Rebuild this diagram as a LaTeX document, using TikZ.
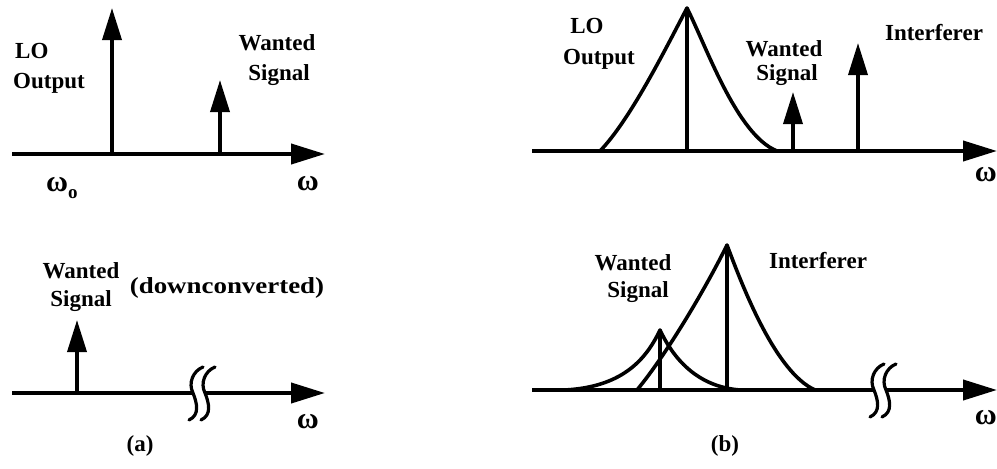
\documentclass[tikz,border=0pt]{standalone}
\usepackage{fontspec}
\setmainfont{Liberation Serif}
\usetikzlibrary{arrows.meta}
\begin{document}
\begin{tikzpicture}[x=1pt,y=-1pt,
  axisline/.style={line width=4pt},
  axisarrow/.style={line width=4pt,-{Triangle[length=34pt,width=20pt]}},
  sigarrow/.style={line width=3.6pt,-{Triangle[length=32pt,width=19pt]}},
  stem/.style={line width=3.6pt},
  curve/.style={line width=3.6pt,line join=round},
  lab/.style={font=\bfseries\fontsize{23}{26}\selectfont,anchor=base,inner sep=0pt},
  om/.style={font=\bfseries\fontsize{30}{30}\selectfont,inner sep=0pt},
  brk/.pic={
    \draw[line width=3.2pt,line cap=round] (10,-26) .. controls (0,-22) and (-5,-10) .. (0,0) .. controls (4,10) and (7,22) .. (-4,27);
    \draw[line width=3.2pt,line cap=round] (22,-26) .. controls (12,-22) and (7,-10) .. (12,0) .. controls (16,10) and (19,22) .. (8,27);
  }]
\useasboundingbox (0,0) rectangle (997,469);
\fill[white] (0,0) rectangle (997,469);

% ---------- (a) top ----------
\coordinate (A1s) at (12,154);
\coordinate (A1e) at (325,154);
\draw[axisarrow] (A1s) -- (A1e);
\coordinate (A1lo) at (112,154);
\coordinate (A1lot) at (112,8);
\draw[sigarrow] (A1lo) -- (A1lot);
\coordinate (A1w) at (220,154);
\coordinate (A1wt) at (220,80);
\draw[sigarrow] (A1w) -- (A1wt);
\node[lab,anchor=base west] (A1t1) at (15,58) {LO};
\node[lab,anchor=base west] (A1t2) at (13,88) {Output};
\node[lab] (A1t3) at (277,50) {Wanted};
\node[lab] (A1t4) at (279,80) {Signal};
\node[om,anchor=base west] (A1om0) at (46,191) {ω\raisebox{-7pt}{\fontsize{19}{19}\selectfont o}};
\node[om,anchor=base east] (A1om) at (319,190) {ω};

% ---------- (a) bottom ----------
\coordinate (A2s) at (12,393);
\coordinate (A2b1) at (193,393);
\coordinate (A2b2) at (205,393);
\coordinate (A2e) at (325,393);
\draw[axisline] (A2s) -- (A2b1);
\draw[axisarrow] (A2b2) -- (A2e);
\pic at (A2b1) {brk};
\coordinate (A2w) at (77,393);
\coordinate (A2wt) at (77,320);
\draw[sigarrow] (A2w) -- (A2wt);
\node[lab] (A2t1) at (81,278) {Wanted};
\node[lab] (A2t2) at (81,306) {Signal};
\node[lab] (A2t3) at (227,293) {\scalebox{1.17}[1]{(downconverted)}};
\node[om,anchor=base east] (A2om) at (319,428) {ω};
\node[lab] (A2cap) at (140,451) {(a)};

% ---------- (b) top ----------
\coordinate (B1s) at (532,151);
\coordinate (B1e) at (997,151);
\draw[axisarrow] (B1s) -- (B1e);
\coordinate (B1g0) at (600,151);
\coordinate (B1gp) at (687,8);
\coordinate (B1g1) at (777,151);
\draw[curve] (B1g0) .. controls (630,120) and (665,50) .. (B1gp) .. controls (707,48) and (737,135) .. (B1g1);
\coordinate (B1lo) at (687,151);
\draw[stem] (B1lo) -- (B1gp);
\coordinate (B1w) at (793,151);
\coordinate (B1wt) at (793,92);
\draw[sigarrow] (B1w) -- (B1wt);
\coordinate (B1i) at (858,151);
\coordinate (B1it) at (858,43);
\draw[sigarrow] (B1i) -- (B1it);
\node[lab] (B1t1) at (587,33) {LO};
\node[lab] (B1t2) at (599,64) {Output};
\node[lab] (B1t3) at (784,56) {Wanted};
\node[lab] (B1t4) at (787,80) {Signal};
\node[lab] (B1t5) at (934,40) {Interferer};
\node[om,anchor=base east] (B1om) at (997,181) {ω};

% ---------- (b) bottom ----------
\coordinate (B2s) at (532,390);
\coordinate (B2b1) at (874,390);
\coordinate (B2b2) at (886,390);
\coordinate (B2e) at (997,390);
\draw[axisline] (B2s) -- (B2b1);
\draw[axisarrow] (B2b2) -- (B2e);
\pic at (B2b1) {brk};
% small (wanted) peak
\coordinate (B2s0) at (565,390);
\coordinate (B2sp) at (660,330);
\coordinate (B2s1) at (740,390);
\draw[curve] (B2s0) .. controls (620,387) and (645,362) .. (B2sp) .. controls (675,362) and (700,387) .. (B2s1);
\coordinate (B2sb) at (660,390);
\draw[stem] (B2sb) -- (B2sp);
% big (interferer) peak
\coordinate (B2g0) at (637,390);
\coordinate (B2gp) at (727,245);
\coordinate (B2g1) at (815,390);
\draw[curve] (B2g0) .. controls (670,350) and (710,280) .. (B2gp) .. controls (742,285) and (775,372) .. (B2g1);
\coordinate (B2gb) at (727,390);
\draw[stem] (B2gb) -- (B2gp);
\node[lab] (B2t1) at (633,270) {Wanted};
\node[lab] (B2t2) at (638,297) {Signal};
\node[lab] (B2t3) at (818,268) {Interferer};
\node[om,anchor=base east] (B2om) at (997,424) {ω};
\node[lab] (B2cap) at (725,451) {(b)};
\end{tikzpicture}
\end{document}
